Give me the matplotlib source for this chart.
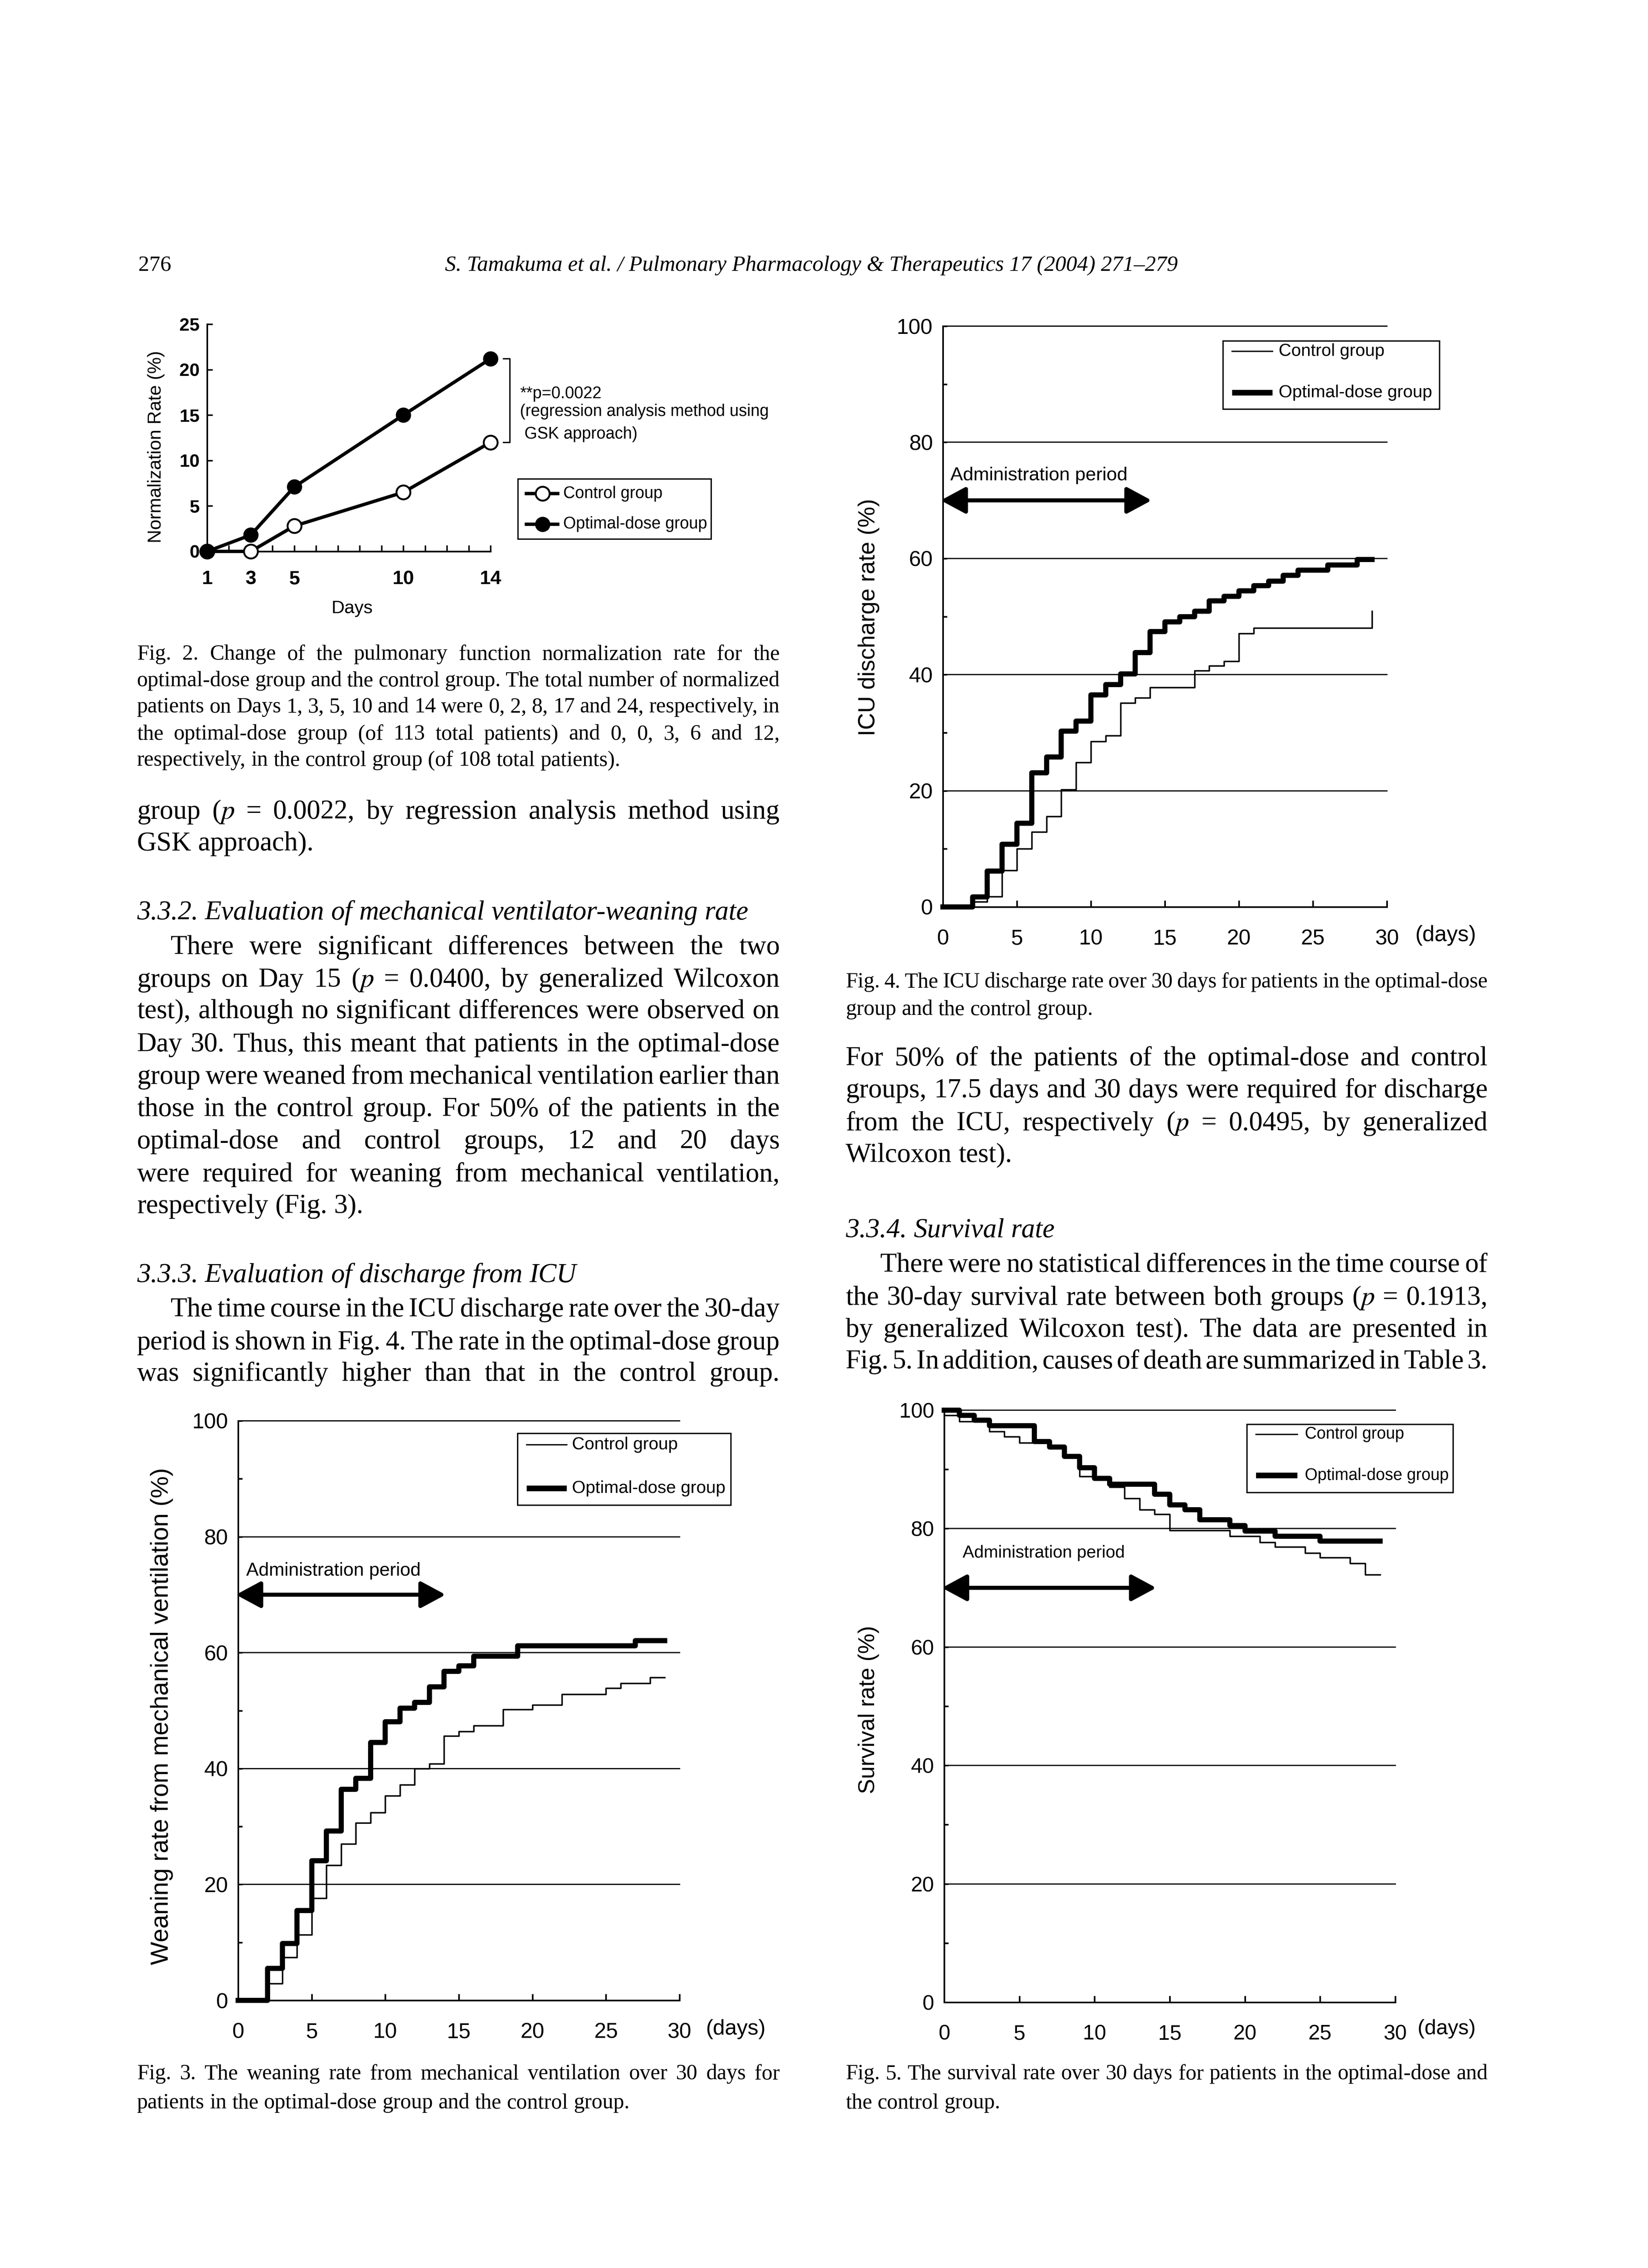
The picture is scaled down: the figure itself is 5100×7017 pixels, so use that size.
import matplotlib
matplotlib.use("Agg")
import matplotlib.pyplot as plt
from matplotlib.patches import FancyArrowPatch, Rectangle
from matplotlib.lines import Line2D

W, H = 5100, 7017
DPI = 300

# ---- data ----
norm_days = [1, 3, 5, 10, 14]
norm_optimal = [0, 1.8, 7.1, 15.0, 21.2]
norm_control = [0, 0, 2.8, 6.5, 12.0]

wean_opt_days = [0, 2, 3, 4, 5, 6, 7, 8, 9, 10, 11, 12, 13, 14, 15, 16, 19, 27, 29]
wean_opt_rate = [0, 5.5, 9.8, 15.5, 24.1, 29.2, 36.4, 38.3, 44.5, 48.1, 50.4, 51.4,
                 54.1, 56.8, 57.7, 59.4, 61.2, 62.1, 62.1]
wean_ctl_days = [0, 2, 3, 4, 5, 6, 7, 8, 9, 10, 11, 12, 13, 14, 15, 16, 18, 20, 22,
                 25, 26, 28, 29]
wean_ctl_rate = [0, 2.9, 7.4, 11.3, 17.6, 23.3, 27.0, 30.6, 32.4, 35.3, 37.2, 40.0,
                 40.8, 45.6, 46.4, 47.4, 50.2, 51.0, 52.8, 53.9, 54.7, 55.7, 55.7]

icu_opt_days = [0, 2, 3, 4, 5, 6, 7, 8, 9, 10, 11, 12, 13, 14, 15, 16, 17, 18, 19,
                20, 21, 22, 23, 24, 26, 28, 29]
icu_opt_rate = [0, 1.7, 6.2, 10.8, 14.4, 23.1, 25.8, 30.3, 32.0, 36.5, 38.3, 40.1,
                43.8, 47.4, 49.1, 50.0, 50.9, 52.7, 53.5, 54.4, 55.3, 56.1, 57.1,
                58.0, 58.9, 59.8, 59.8]
icu_ctl_days = [0, 2, 3, 4, 5, 6, 7, 8, 9, 10, 11, 12, 13, 14, 17, 18, 19, 20, 21, 29]
icu_ctl_rate = [0, 0.9, 1.8, 6.3, 10.0, 12.9, 15.6, 20.2, 24.9, 28.5, 29.5, 35.1,
                36.0, 37.8, 40.7, 41.5, 42.3, 47.1, 48.0, 50.9]

surv_opt_days = [0, 1, 2, 3, 6, 7, 8, 9, 10, 11, 14, 15, 16, 17, 19, 20, 22, 25, 29]
surv_opt_rate = [100, 99.1, 98.3, 97.4, 94.7, 93.8, 92.2, 90.3, 88.5, 87.5, 85.8,
                 84.0, 83.2, 81.5, 80.5, 79.6, 78.7, 77.9, 77.9]
surv_ctl_days = [0, 1, 3, 4, 5, 7, 8, 9, 11, 12, 13, 14, 15, 19, 21, 22, 24, 25, 27,
                 28, 29]
surv_ctl_rate = [99.1, 98.1, 96.4, 95.5, 94.5, 93.6, 92.4, 88.8, 87.0, 85.1, 83.2,
                 82.4, 79.7, 78.7, 77.7, 76.9, 75.9, 75.1, 74.1, 72.2, 72.2]

LEG_CONTROL = "Control group"
LEG_OPTIMAL = "Optimal-dose group"
ADMIN = "Administration period"

plt.rcParams['font.family'] = ['Liberation Sans', 'DejaVu Sans']
plt.rcParams['mathtext.fontset'] = 'stix'

fig = plt.figure(figsize=(W / DPI, H / DPI), dpi=DPI)
fig.patch.set_facecolor('white')
renderer = fig.canvas.get_renderer()
SERIF = 'Liberation Serif'


def fx(x):
    return x / W


def fy(y):
    return 1 - y / H


def axes_px(left, top, right, bottom):
    return fig.add_axes([fx(left), fy(bottom), (right - left) / W, (bottom - top) / H])


def text_line(x0, x1, yc, s, size, style='normal', justify=True):
    em = size * DPI / 72
    yb = yc + 0.3 * em
    words = s.split(' ')
    arts = [fig.text(0, fy(yb), w, fontsize=size, family=SERIF, style=style,
                     va='baseline', ha='left') for w in words]
    widths = [a.get_window_extent(renderer).width for a in arts]
    if justify and len(words) > 1:
        gap = (x1 - x0 - sum(widths)) / (len(words) - 1)
        gap = max(gap, 0.12 * em)
    else:
        gap = 0.25 * em
    x = x0
    for a, w in zip(arts, widths):
        a.set_x(fx(x))
        x += w + gap


def legend_px(left, top, right, bottom, lx0, lx1, tx, y1, y2, size):
    fig.add_artist(Rectangle((fx(left), fy(bottom)), (right - left) / W, (bottom - top) / H,
                             fill=False, ec='k', lw=1.0, transform=fig.transFigure))
    fig.add_artist(Line2D([fx(lx0), fx(lx1)], [fy(y1)] * 2, color='k', lw=1.0))
    fig.add_artist(Line2D([fx(lx0), fx(lx1)], [fy(y2)] * 2, color='k', lw=4.2,
                          solid_capstyle='butt'))
    fig.text(fx(tx), fy(y1), LEG_CONTROL, fontsize=size, va='center', ha='left')
    fig.text(fx(tx), fy(y2), LEG_OPTIMAL, fontsize=size, va='center', ha='left')


def km_axes(ax, tick_size):
    ax.set_xlim(0, 30)
    ax.set_ylim(0, 100)
    ax.patch.set_visible(False)
    for s in ('top', 'right'):
        ax.spines[s].set_visible(False)
    for s in ('left', 'bottom'):
        ax.spines[s].set_linewidth(1.2)
    ax.set_xticks(range(0, 31, 5))
    ax.set_yticks(range(0, 101, 20))
    ax.set_yticks(range(10, 100, 20), minor=True)
    ax.tick_params(axis='x', direction='in', length=4.8, width=1.2, pad=16.5,
                   labelsize=tick_size)
    ax.tick_params(axis='y', which='both', direction='in', length=3.2, width=1.2,
                   pad=7.5, labelsize=tick_size)
    for v in (20, 40, 60, 80, 100):
        ax.axhline(v, color='k', lw=0.9, zorder=1, clip_on=False)


def admin_arrow(ax, tx, ty, size):
    ax.text(tx, ty, ADMIN, fontsize=size, va='center', ha='left')
    ax.add_patch(FancyArrowPatch((-0.15, 70), (14.1, 70),
                                 arrowstyle='<|-|>,head_length=15.6,head_width=8.4',
                                 mutation_scale=1, lw=3.0, color='k',
                                 shrinkA=0, shrinkB=0, clip_on=False))


def km_curves(ax, d_ctl, r_ctl, d_opt, r_opt):
    ax.step(d_ctl, r_ctl, where='post', color='k', lw=1.1, clip_on=False, zorder=3)
    ax.step(d_opt, r_opt, where='post', color='k', lw=3.8, clip_on=False, zorder=4)


# ---- header ----
text_line(428, 600, 818, "276", 16.3, justify=False)
fig.text(fx(2511), fy(818 + 20),
         "S. Tamakuma et al. / Pulmonary Pharmacology & Therapeutics 17 (2004) 271\u2013279",
         fontsize=16.3, family=SERIF, style='italic', ha='center', va='baseline')

# ---- Fig. 2 ----
ax2 = axes_px(641, 1003, 1518, 1706)
ax2.set_xlim(1, 14)
ax2.set_ylim(0, 25)
ax2.patch.set_visible(False)
for s in ('top', 'right'):
    ax2.spines[s].set_visible(False)
for s in ('left', 'bottom'):
    ax2.spines[s].set_linewidth(1.2)
ax2.plot(norm_days, norm_control, color='k', lw=2.5, marker='o', ms=10.3, mfc='white',
         mec='k', mew=1.4, clip_on=False, zorder=3)
ax2.plot(norm_days, norm_optimal, color='k', lw=2.5, marker='o', ms=10.3, mfc='k',
         mec='k', clip_on=False, zorder=4)
ax2.set_xticks(norm_days)
ax2.set_xticks(range(1, 15), minor=True)
ax2.set_yticks(range(0, 26, 5))
ax2.tick_params(axis='x', which='both', direction='in', length=4.6, width=1.1, pad=14)
ax2.tick_params(axis='x', labelsize=14.5)
ax2.tick_params(axis='y', direction='in', length=4.0, width=1.1, pad=5.5, labelsize=13.5)
for lab in ax2.get_xticklabels() + ax2.get_yticklabels():
    lab.set_fontweight('bold')
ax2.plot([14.6, 14.89, 14.89, 14.6], [21.2, 21.2, 12.0, 12.0], color='k', lw=1.0,
         clip_on=False)
ax2.text(15.35, 17.35, "**p=0.0022", fontsize=12.2, va='center', ha='left')
ax2.text(15.35, 15.37, "(regression analysis method using", fontsize=12.2, va='center',
         ha='left')
ax2.text(15.55, 12.9, "GSK approach)", fontsize=12.2, va='center', ha='left')
fig.text(fx(1089), fy(1883), "Days", fontsize=13.5, ha='center', va='center')
fig.text(fx(483), fy(1383), "Normalization Rate (%)", fontsize=13.8, rotation=90,
         ha='center', va='center')
fig.add_artist(Rectangle((fx(1603), fy(1668)), (2201 - 1603) / W, (1668 - 1482) / H,
                         fill=False, ec='k', lw=1.0, transform=fig.transFigure))
fig.add_artist(Line2D([fx(1629), fx(1726)], [fy(1527)] * 2, color='k', lw=2.5))
fig.add_artist(Line2D([fx(1679)], [fy(1527)], color='k', marker='o', ms=10.3,
                      mfc='white', mec='k', mew=1.4))
fig.add_artist(Line2D([fx(1629), fx(1726)], [fy(1622)] * 2, color='k', lw=2.5))
fig.add_artist(Line2D([fx(1679)], [fy(1622)], color='k', marker='o', ms=10.3, mfc='k'))
fig.text(fx(1743), fy(1527), LEG_CONTROL, fontsize=12.2, va='center', ha='left')
fig.text(fx(1743), fy(1622), LEG_OPTIMAL, fontsize=12.2, va='center', ha='left')

L0, L1 = 424, 2413
R0, R1 = 2617, 4604
CAP = 16.1
BODY = 20.2

cap2 = ["Fig. 2. Change of the pulmonary function normalization rate for the",
        "optimal-dose group and the control group. The total number of normalized",
        "patients on Days 1, 3, 5, 10 and 14 were 0, 2, 8, 17 and 24, respectively, in",
        "the optimal-dose group (of 113 total patients) and 0, 0, 3, 6 and 12,",
        "respectively, in the control group (of 108 total patients)."]
for i, (s, y) in enumerate(zip(cap2, [2021, 2103, 2184, 2268, 2349])):
    text_line(L0, L1, y, s, CAP, justify=i < 4)

# ---- left column body ----
text_line(L0, L1, 2508, "group ($p$ = 0.0022, by regression analysis method using", BODY)
text_line(L0, L1, 2606, "GSK approach).", BODY, justify=False)
text_line(L0, L1, 2820, "3.3.2. Evaluation of mechanical ventilator-weaning rate", BODY,
          style='italic', justify=False)
para1 = ["There were significant differences between the two",
         "groups on Day 15 ($p$ = 0.0400, by generalized Wilcoxon",
         "test), although no significant differences were observed on",
         "Day 30. Thus, this meant that patients in the optimal-dose",
         "group were weaned from mechanical ventilation earlier than",
         "those in the control group. For 50% of the patients in the",
         "optimal-dose and control groups, 12 and 20 days",
         "were required for weaning from mechanical ventilation,",
         "respectively (Fig. 3)."]
ys1 = [2927, 3028, 3125, 3228, 3328, 3428, 3528, 3630, 3728]
for i, (s, y) in enumerate(zip(para1, ys1)):
    text_line(527 if i == 0 else L0, L1, y, s, BODY, justify=i < len(para1) - 1)
text_line(L0, L1, 3942, "3.3.3. Evaluation of discharge from ICU", BODY, style='italic',
          justify=False)
para2 = ["The time course in the ICU discharge rate over the 30-day",
         "period is shown in Fig. 4. The rate in the optimal-dose group",
         "was significantly higher than that in the control group."]
for i, (s, y) in enumerate(zip(para2, [4048, 4150, 4247])):
    text_line(527 if i == 0 else L0, L1, y, s, BODY)

# ---- right column body ----
text_line(R0, R1, 3035,
          "Fig. 4. The ICU discharge rate over 30 days for patients in the optimal-dose", CAP)
text_line(R0, R1, 3120, "group and the control group.", CAP, justify=False)
para3 = ["For 50% of the patients of the optimal-dose and control",
         "groups, 17.5 days and 30 days were required for discharge",
         "from the ICU, respectively ($p$ = 0.0495, by generalized",
         "Wilcoxon test)."]
for i, (s, y) in enumerate(zip(para3, [3271, 3370, 3472, 3570])):
    text_line(R0, R1, y, s, BODY, justify=i < 3)
text_line(R0, R1, 3803, "3.3.4. Survival rate", BODY, style='italic', justify=False)
para4 = ["There were no statistical differences in the time course of",
         "the 30-day survival rate between both groups ($p$ = 0.1913,",
         "by generalized Wilcoxon test). The data are presented in",
         "Fig. 5. In addition, causes of death are summarized in Table 3."]
for i, (s, y) in enumerate(zip(para4, [3910, 4012, 4111, 4209])):
    text_line(2723 if i == 0 else R0, R1, y, s, BODY)

# ---- Fig. 3 weaning ----
ax3 = axes_px(737, 4396, 2103, 6189)
km_axes(ax3, 16)
km_curves(ax3, wean_ctl_days, wean_ctl_rate, wean_opt_days, wean_opt_rate)
admin_arrow(ax3, 0.56, 74.1, 13.8)
fig.text(fx(501), fy(5310), "Weaning rate from mechanical ventilation (%)", fontsize=18.3,
         rotation=90, ha='center', va='center')
fig.text(fx(2277), fy(6278), "(days)", fontsize=16, ha='center', va='center')
legend_px(1602, 4435, 2262, 4657, 1630, 1754, 1770, 4470, 4605, 13)

# ---- Fig. 4 ICU discharge ----
ax4 = axes_px(2918, 1009, 4292, 2806)
km_axes(ax4, 16)
km_curves(ax4, icu_ctl_days, icu_ctl_rate, icu_opt_days, icu_opt_rate)
admin_arrow(ax4, 0.5, 74.3, 14)
fig.text(fx(2688), fy(1910), "ICU discharge rate (%)", fontsize=17.3, rotation=90,
         ha='center', va='center')
fig.text(fx(4474), fy(2894), "(days)", fontsize=16.3, ha='center', va='center')
legend_px(3785, 1055, 4455, 1266, 3813, 3938, 3957, 1087, 1215, 13)

# ---- Fig. 5 survival ----
ax5 = axes_px(2922, 4363, 4318, 6195)
km_axes(ax5, 15.6)
km_curves(ax5, surv_ctl_days, surv_ctl_rate, surv_opt_days, surv_opt_rate)
admin_arrow(ax5, 1.23, 75.9, 12.8)
fig.text(fx(2688), fy(5290), "Survival rate (%)", fontsize=16.9, rotation=90,
         ha='center', va='center')
fig.text(fx(4477), fy(6277), "(days)", fontsize=15.5, ha='center', va='center')
legend_px(3859, 4407, 4497, 4618, 3887, 4015, 4038, 4438, 4565, 12.2)

# ---- bottom captions ----
text_line(L0, L1, 6413,
          "Fig. 3. The weaning rate from mechanical ventilation over 30 days for", CAP)
text_line(L0, L1, 6503, "patients in the optimal-dose group and the control group.", CAP,
          justify=False)
text_line(R0, R1, 6413,
          "Fig. 5. The survival rate over 30 days for patients in the optimal-dose and", CAP)
text_line(R0, R1, 6503, "the control group.", CAP, justify=False)

fig.savefig("out.png", dpi=DPI, facecolor='white')
